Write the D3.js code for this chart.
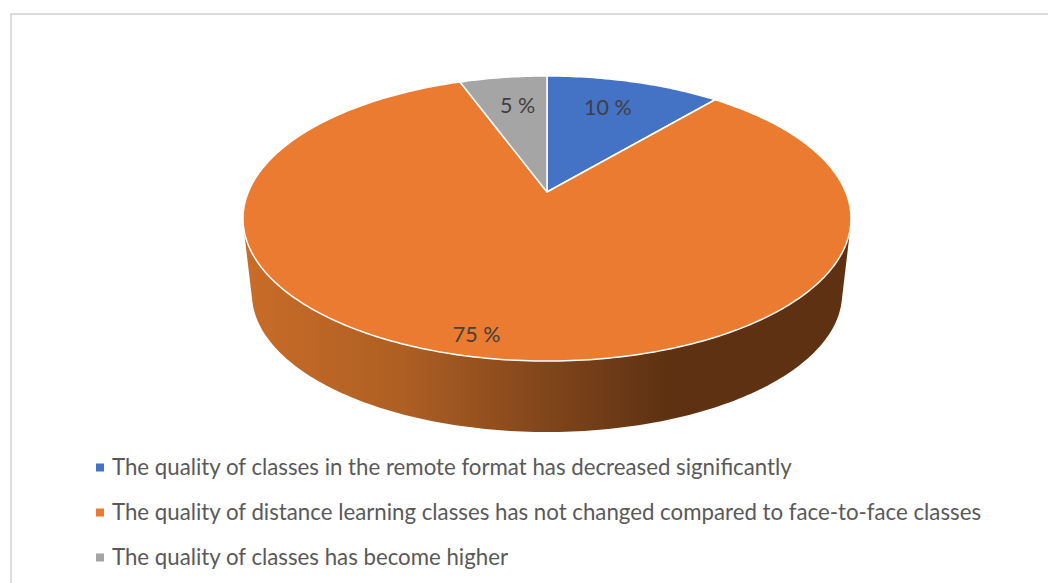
<!DOCTYPE html>
<html>
<head>
<meta charset="utf-8">
<script src="https://cdn.jsdelivr.net/npm/d3@7"></script>
<style>
    html, body { margin: 0; padding: 0; background: #fff; overflow: hidden; }
    svg { display: block; font-family: Lato, "Open Sans", sans-serif; }
</style>
</head>
<body>
<div id="chart"></div>
<script>
//Data
const categories = [
    "The quality of classes in the remote format has decreased significantly",
    "The quality of distance learning classes has not changed compared to face-to-face classes",
    "The quality of classes has become higher"
];
const percents = [10, 75, 5];
const colors = ["#4472C4", "#EA7B31", "#A5A5A5"];

//Dimensions
const width = 1048;
const height = 583;

//Perspective of the pie: disc centre on screen, radii and tilt
const cx = 547, cy = 192;
const radiusX = 298.7, radiusY = 137.6, tilt = 0.186;
//Side wall: rim shrinks toward a vanishing point below the pie
const vanishY = 2783, wallScale = 0.9707;

const project = (angle, r = 1) => {
    const u = r * Math.sin(angle), v = r * Math.cos(angle);
    const w = 1 + tilt * v;
    return [cx + radiusX * u / w, cy - radiusY * v / w];
};
const toWall = p => [cx + wallScale * (p[0] - cx), vanishY + wallScale * (p[1] - vanishY)];

//Create core SVG
const svg = d3.select("#chart")
    .append("svg")
    .attr("width", width)
    .attr("height", height);

//Frame, only the top and left edges are in the picture
svg.append("path")
    .attr("d", d3.line()([[11, height], [11, 14], [width, 14]]))
    .attr("fill", "none")
    .attr("stroke", "#dcdcdc")
    .attr("stroke-width", 2);

/*#########
Side wall
#########*/
const rimAngles = d3.range(0, 360, 1).map(d => d * Math.PI / 180);
const rim = rimAngles.map(a => project(a));
const wallHull = d3.polygonHull(rim.concat(rim.map(toWall)));

const gradient = svg.append("defs")
    .append("linearGradient")
    .attr("id", "wallShade")
    .attr("gradientUnits", "userSpaceOnUse")
    .attr("x1", 245).attr("x2", 851)
    .attr("y1", 0).attr("y2", 0);
gradient.selectAll("stop")
    .data([
        [0, "#C96C28"],
        [0.26, "#AE5F23"],
        [0.5, "#80451B"],
        [0.7, "#5E3112"],
        [1, "#5E3112"]
    ])
    .join("stop")
    .attr("offset", d => d[0])
    .attr("stop-color", d => d[1]);

svg.append("path")
    .attr("d", d3.line()(wallHull) + "Z")
    .attr("fill", "url(#wallShade)");

/*#########
Top slices
#########*/
const color = d3.scaleOrdinal().domain(categories).range(colors);

const pie = d3.pie().sort(null)(percents);

const slicePath = d => {
    const steps = Math.ceil((d.endAngle - d.startAngle) * 60);
    const arcPoints = d3.range(steps + 1)
        .map(i => project(d.startAngle + (d.endAngle - d.startAngle) * i / steps));
    return d3.line()([[cx, cy]].concat(arcPoints)) + "Z";
};

svg.selectAll("path.slice")
    .data(pie)
    .join("path")
    .attr("class", "slice")
    .attr("d", slicePath)
    .attr("fill", (d, i) => color(categories[i]))
    .attr("stroke", "#fff")
    .attr("stroke-width", 1.5)
    .attr("stroke-linejoin", "round");

/*######
Labels
######*/
const labelRadius = [0.74, 0.88, 0.73];
const labelNudge = [[-6, 0], [-16, 0], [4, 0]];

svg.selectAll("text.value")
    .data(pie)
    .join("text")
    .attr("class", "value")
    .text(d => d.data + " %")
    .attr("x", (d, i) => project((d.startAngle + d.endAngle) / 2, labelRadius[i])[0] + labelNudge[i][0])
    .attr("y", (d, i) => project((d.startAngle + d.endAngle) / 2, labelRadius[i])[1] + labelNudge[i][1] + 8)
    .attr("text-anchor", "middle")
    .attr("font-size", 21.5)
    .attr("fill", "#404040");

/*######
Legend
######*/
const legendY = d3.scalePoint().domain(categories).range([475, 565]);

svg.selectAll("rect.key")
    .data(categories)
    .join("rect")
    .attr("class", "key")
    .attr("x", 96)
    .attr("y", d => legendY(d) - 11.5)
    .attr("width", 8)
    .attr("height", 8)
    .attr("fill", d => color(d));

svg.selectAll("text.legend")
    .data(categories)
    .join("text")
    .attr("class", "legend")
    .text(d => d)
    .attr("x", 112)
    .attr("y", d => legendY(d))
    .attr("font-size", 22.25)
    .attr("fill", "#595959");
</script>
</body>
</html>
